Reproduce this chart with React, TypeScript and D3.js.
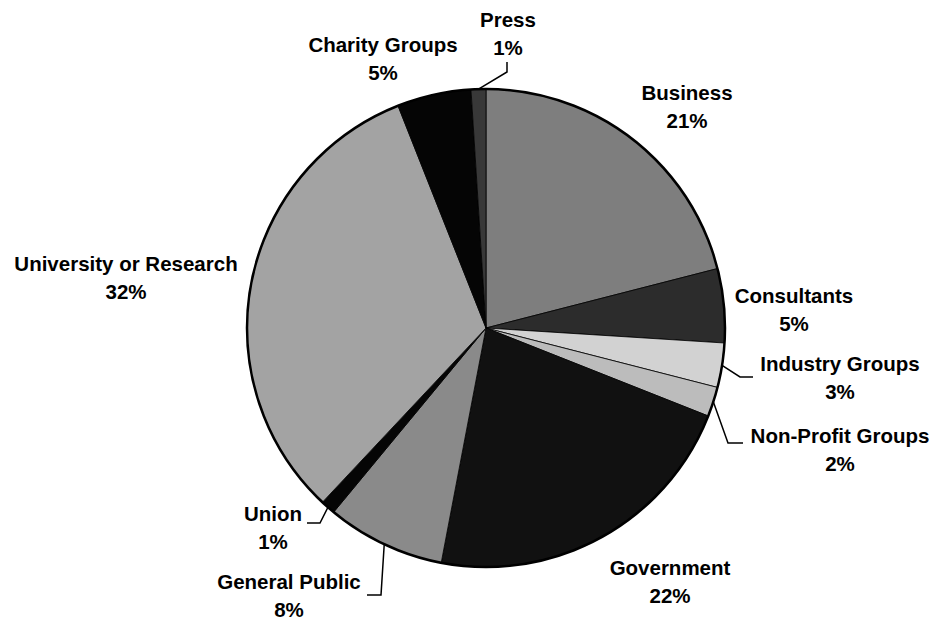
import React from "react";
import * as d3 from "d3";

const categories = [
  "Business",
  "Consultants",
  "Industry Groups",
  "Non-Profit Groups",
  "Government",
  "General Public",
  "Union",
  "University or Research",
  "Charity Groups",
  "Press",
];
const values = [21, 5, 3, 2, 22, 8, 1, 32, 5, 1];
const percentLabels = ["21%", "5%", "3%", "2%", "22%", "8%", "1%", "32%", "5%", "1%"];
const fills = [
  "#7e7e7e",
  "#2c2c2c",
  "#d2d2d2",
  "#bcbcbc",
  "#111111",
  "#8a8a8a",
  "#050505",
  "#a3a3a3",
  "#050505",
  "#383838",
];

// label anchor positions (center x, first baseline y)
const labelPos: [number, number][] = [
  [687, 100],
  [794, 303],
  [840, 371],
  [840, 443],
  [670, 575],
  [289, 589],
  [273, 521],
  [126, 271],
  [383, 52],
  [508, 27],
];

const W = 938;
const H = 620;
const cx = 486;
const cy = 328;
const R = 239;

export default function App() {
  const pie = d3
    .pie<number>()
    .sort(null)
    .value((d) => d)
    .startAngle(0)
    .endAngle(2 * Math.PI);
  const arcs = pie(values);
  const arc = d3.arc<d3.PieArcDatum<number>>().innerRadius(0).outerRadius(R);

  const pt = (a: number, r: number): [number, number] => [
    cx + r * Math.sin(a),
    cy - r * Math.cos(a),
  ];
  const mid = (i: number) => (arcs[i].startAngle + arcs[i].endAngle) / 2;
  const line = d3.line();

  const leaders: [number, number][][] = [];
  // Press
  {
    const p = pt(mid(9), R);
    leaders.push([p, [507, 72], [507, 62]]);
  }
  // Industry Groups
  {
    const p = pt(mid(2), R);
    leaders.push([p, [740, 377], [753, 377]]);
  }
  // Non-Profit
  {
    const p = pt(mid(3), R);
    leaders.push([p, [728, 443], [743, 443]]);
  }
  // Union
  {
    const p = pt(mid(6), R);
    leaders.push([p, [320, 523], [307, 523]]);
  }
  // General Public
  {
    const p = pt(mid(5), R);
    leaders.push([p, [381, 595], [367, 595]]);
  }

  return (
    <svg width={W} height={H} style={{ display: "block", position: "absolute", left: 0, top: 0, background: "#fff" }}>
      <g transform={`translate(${cx},${cy})`}>
        {arcs.map((a, i) => (
          <path key={i} d={arc(a) || ""} fill={fills[i]} stroke="#000" strokeWidth={0.8} />
        ))}
        <circle r={R} fill="none" stroke="#000" strokeWidth={2.5} />
      </g>
      {leaders.map((l, i) => (
        <path key={i} d={line(l) || ""} fill="none" stroke="#000" strokeWidth={1.5} />
      ))}
      {categories.map((c, i) => (
        <text
          key={i}
          x={labelPos[i][0]}
          y={labelPos[i][1]}
          textAnchor="middle"
          fontFamily="Liberation Sans, Arial, sans-serif"
          fontWeight="bold"
          fontSize={20.5}
          fill="#000"
        >
          <tspan x={labelPos[i][0]}>{c}</tspan>
          <tspan x={labelPos[i][0]} dy={28}>
            {percentLabels[i]}
          </tspan>
        </text>
      ))}
    </svg>
  );
}
